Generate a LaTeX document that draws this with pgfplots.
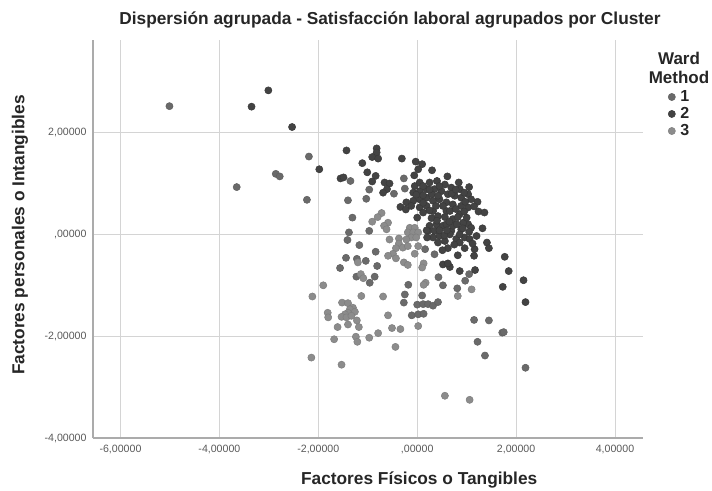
\documentclass[border=0pt]{standalone}
\usepackage{pgfplots}
\pgfplotsset{compat=1.18}
\usepackage{fontspec}
\setmainfont{Liberation Sans}
\definecolor{wardA}{HTML}{6A6A6A}
\definecolor{wardB}{HTML}{434343}
\definecolor{wardC}{HTML}{8C8C8C}
\definecolor{gridc}{HTML}{D4D4D4}
\definecolor{axisc}{HTML}{ABABAB}
\begin{document}
\begin{tikzpicture}[x=1bp,y=1bp]
\path[use as bounding box] (-93bp,-53bp) rectangle (619bp,438bp);
\begin{axis}[
  at={(0,0)},anchor=south west,
  scale only axis,width=550bp,height=398bp,
  xmin=-6.556,xmax=4.566,ymin=-4,ymax=3.82,
  axis lines=left,axis line style={-,draw=axisc,line width=1.4bp},
  xtick={-6,-4,-2,0,2,4},ytick={-4,-2,0,2},
  xticklabels={{-6,00000},{-4,00000},{-2,00000},{,00000},{2,00000},{4,00000}},
  yticklabels={{-4,00000},{-2,00000},{,00000},{2,00000}},
  major tick length=0pt,
  tick label style={font=\fontsize{10.6bp}{12bp}\selectfont,text=black!65},
  xticklabel style={yshift=-4bp},
  yticklabel style={xshift=-3bp},
  grid=major,major grid style={draw=gridc,line width=1bp},
  title={\textbf{Dispersión agrupada - Satisfacción laboral agrupados por Cluster}},
  every axis title/.style={at={(axis description cs:0.54,1.05)},anchor=center,font=\fontsize{17.3bp}{19bp}\selectfont,text=black!85},
  xlabel={\textbf{Factores Físicos o Tangibles}},
  ylabel={\textbf{Factores personales o Intangibles}},
  every axis x label/.style={at={(axis description cs:0.593,-0.1055)},anchor=center,font=\fontsize{17.3bp}{19bp}\selectfont,text=black!85},
  every axis y label/.style={at={(axis description cs:-0.133,0.51)},anchor=center,rotate=90,font=\fontsize{17.3bp}{19bp}\selectfont,text=black!85},
  legend style={at={(1.0455,0.878)},anchor=north west,draw=none,fill=none,
    font=\fontsize{16bp}{16bp}\selectfont\bfseries,row sep=0.4bp,inner sep=0pt,text=black!85,
    /tikz/every odd column/.append style={column sep=3bp}},
  legend cell align=left,
  clip=false,
]
\addplot[only marks,mark=*,mark size=3.6pt,mark options={fill=wardA,draw=wardA!90!black,line width=.5bp}] table {
-5.01 2.52
-3.65 0.93
-2.86 1.19
-2.78 1.14
-2.19 1.53
-2.23 0.68
-1.35 1.05
-0.27 1.10
-0.47 0.80
-0.97 0.88
-1.40 0.67
-0.25 0.90
-1.03 0.70
-1.31 0.33
-0.97 0.07
-1.38 0.04
-1.41 -0.11
-1.17 -0.21
-0.84 -0.34
-1.44 -0.46
-1.22 -0.48
-1.04 -0.52
-0.81 -0.62
-1.56 -0.66
-1.23 -0.83
-0.86 -0.83
-0.96 -0.95
0.16 -0.29
0.35 -0.39
0.43 -0.84
0.52 -1.00
0.97 -0.91
1.05 -0.78
0.81 -1.06
-0.18 -0.99
-0.25 -1.18
-0.27 -1.34
0.10 -1.20
0.00 -1.38
0.12 -1.37
0.22 -1.37
0.32 -1.40
0.42 -1.33
-0.11 -1.59
0.02 -1.57
0.13 -1.56
1.15 -1.68
1.45 -1.69
1.72 -1.93
1.75 -1.92
1.22 -2.11
1.37 -2.38
2.19 -2.62
};
\addlegendentry{1}
\addplot[only marks,mark=*,mark size=3.6pt,mark options={fill=wardB,draw=wardB!85!black,line width=.5bp}] table {
-3.35 2.51
-3.01 2.83
-2.53 2.11
-1.98 1.28
-1.43 1.65
-0.82 1.69
-0.82 1.61
-0.91 1.52
-0.79 1.49
-1.11 1.40
-0.31 1.49
-0.03 1.43
0.10 1.38
0.02 1.28
-0.06 1.16
0.30 1.26
-1.01 1.22
-0.84 1.15
-0.91 1.04
-1.55 1.10
-1.49 1.12
-0.66 1.02
-0.56 1.00
-0.61 0.89
-0.69 0.82
0.61 1.14
0.84 1.02
1.05 0.93
-0.05 0.95
0.05 1.02
0.25 1.02
0.40 1.05
0.56 0.98
0.69 0.92
0.86 0.89
1.03 0.79
1.09 0.69
1.22 0.64
1.24 0.45
1.36 0.43
-0.08 0.82
0.05 0.85
0.19 0.89
0.35 0.89
0.49 0.85
0.62 0.79
0.76 0.76
0.89 0.72
-0.08 0.66
-0.22 0.63
-0.34 0.54
-0.23 0.49
-0.12 0.56
0.05 0.69
0.19 0.72
0.32 0.66
0.45 0.69
0.59 0.63
0.72 0.59
0.89 0.56
1.03 0.53
0.05 0.53
0.19 0.56
0.12 0.43
0.59 0.46
0.86 0.40
0.00 0.33
0.29 0.32
0.42 0.36
0.56 0.34
0.72 0.30
0.82 0.34
1.03 0.20
1.09 0.13
1.32 0.12
0.25 0.17
0.39 0.20
0.52 0.17
0.22 0.07
0.35 0.07
0.69 0.07
0.89 0.10
0.19 0.08
0.32 -0.06
0.45 -0.03
0.66 0.00
0.79 -0.09
0.96 -0.06
1.20 -0.03
1.06 -0.09
0.42 -0.16
0.56 -0.13
0.86 -0.16
1.41 -0.16
1.45 -0.27
0.96 -0.27
1.16 -0.29
0.62 -0.27
0.51 -0.31
1.15 -0.42
0.82 -0.41
1.77 -0.44
1.85 -0.72
1.73 -1.03
0.86 -0.72
1.17 -0.70
0.66 -0.64
0.52 -0.59
0.62 -0.57
0.12 0.95
0.29 0.79
0.42 0.76
0.52 0.56
0.66 0.46
0.32 0.46
0.93 0.23
1.00 0.33
0.59 0.20
0.72 0.17
0.86 0.00
2.15 -0.90
2.19 -1.33
0.12 0.77
0.12 0.62
0.25 0.88
0.25 0.47
0.38 0.56
0.45 0.95
0.70 0.80
0.78 0.88
0.95 0.82
0.97 0.64
0.78 0.50
0.95 0.45
1.15 0.55
0.65 0.25
0.80 0.20
0.92 0.12
0.45 0.08
0.55 -0.02
0.75 -0.20
1.05 0.05
1.12 -0.18
0.40 0.27
0.20 -0.06
0.60 0.08
-0.02 0.78
};
\addlegendentry{2}
\addplot[only marks,mark=*,mark size=3.6pt,mark options={fill=wardC,draw=wardC!90!black,line width=.5bp}] table {
-0.72 0.42
-0.80 0.34
-0.91 0.25
-0.59 0.23
-0.67 0.17
-0.62 0.10
-1.20 -0.55
-1.14 -0.78
-1.09 -0.86
-1.90 -1.00
-2.12 -1.22
-0.15 0.13
-0.05 0.13
-0.19 0.04
-0.08 0.04
0.02 0.04
-0.12 -0.06
-0.02 -0.06
-0.22 -0.10
-0.56 -0.10
-0.37 -0.08
-0.37 -0.18
-0.29 -0.26
-0.19 -0.23
-0.43 -0.27
-0.49 -0.38
-0.59 -0.42
-0.43 -0.47
-0.05 -0.38
0.02 -0.23
-0.27 -0.55
-0.19 -0.60
0.13 -0.57
0.10 -0.65
0.17 -0.95
0.13 -0.99
0.82 -1.21
1.10 -1.08
-1.13 -1.21
-0.69 -1.22
0.02 -1.80
-0.59 -1.59
-0.51 -1.84
-0.34 -1.86
-0.79 -1.94
-0.97 -2.03
-0.44 -2.21
-1.24 -2.01
-1.21 -2.11
-1.68 -2.06
-2.14 -2.42
-1.53 -2.56
-1.52 -1.34
-1.40 -1.35
-1.30 -1.44
-1.36 -1.47
-1.26 -1.52
-1.40 -1.54
-1.46 -1.57
-1.53 -1.62
-1.43 -1.63
-1.33 -1.60
-1.22 -1.69
-1.40 -1.77
-1.18 -1.82
-1.61 -1.82
-1.81 -1.54
-1.80 -1.63
0.56 -3.17
1.06 -3.25
};
\addlegendentry{3}
\node[font=\fontsize{17bp}{19bp}\selectfont\bfseries,align=center,text=black!85] at (axis description cs:1.0655,0.929) {Ward\\Method};
\end{axis}
\end{tikzpicture}
\end{document}
